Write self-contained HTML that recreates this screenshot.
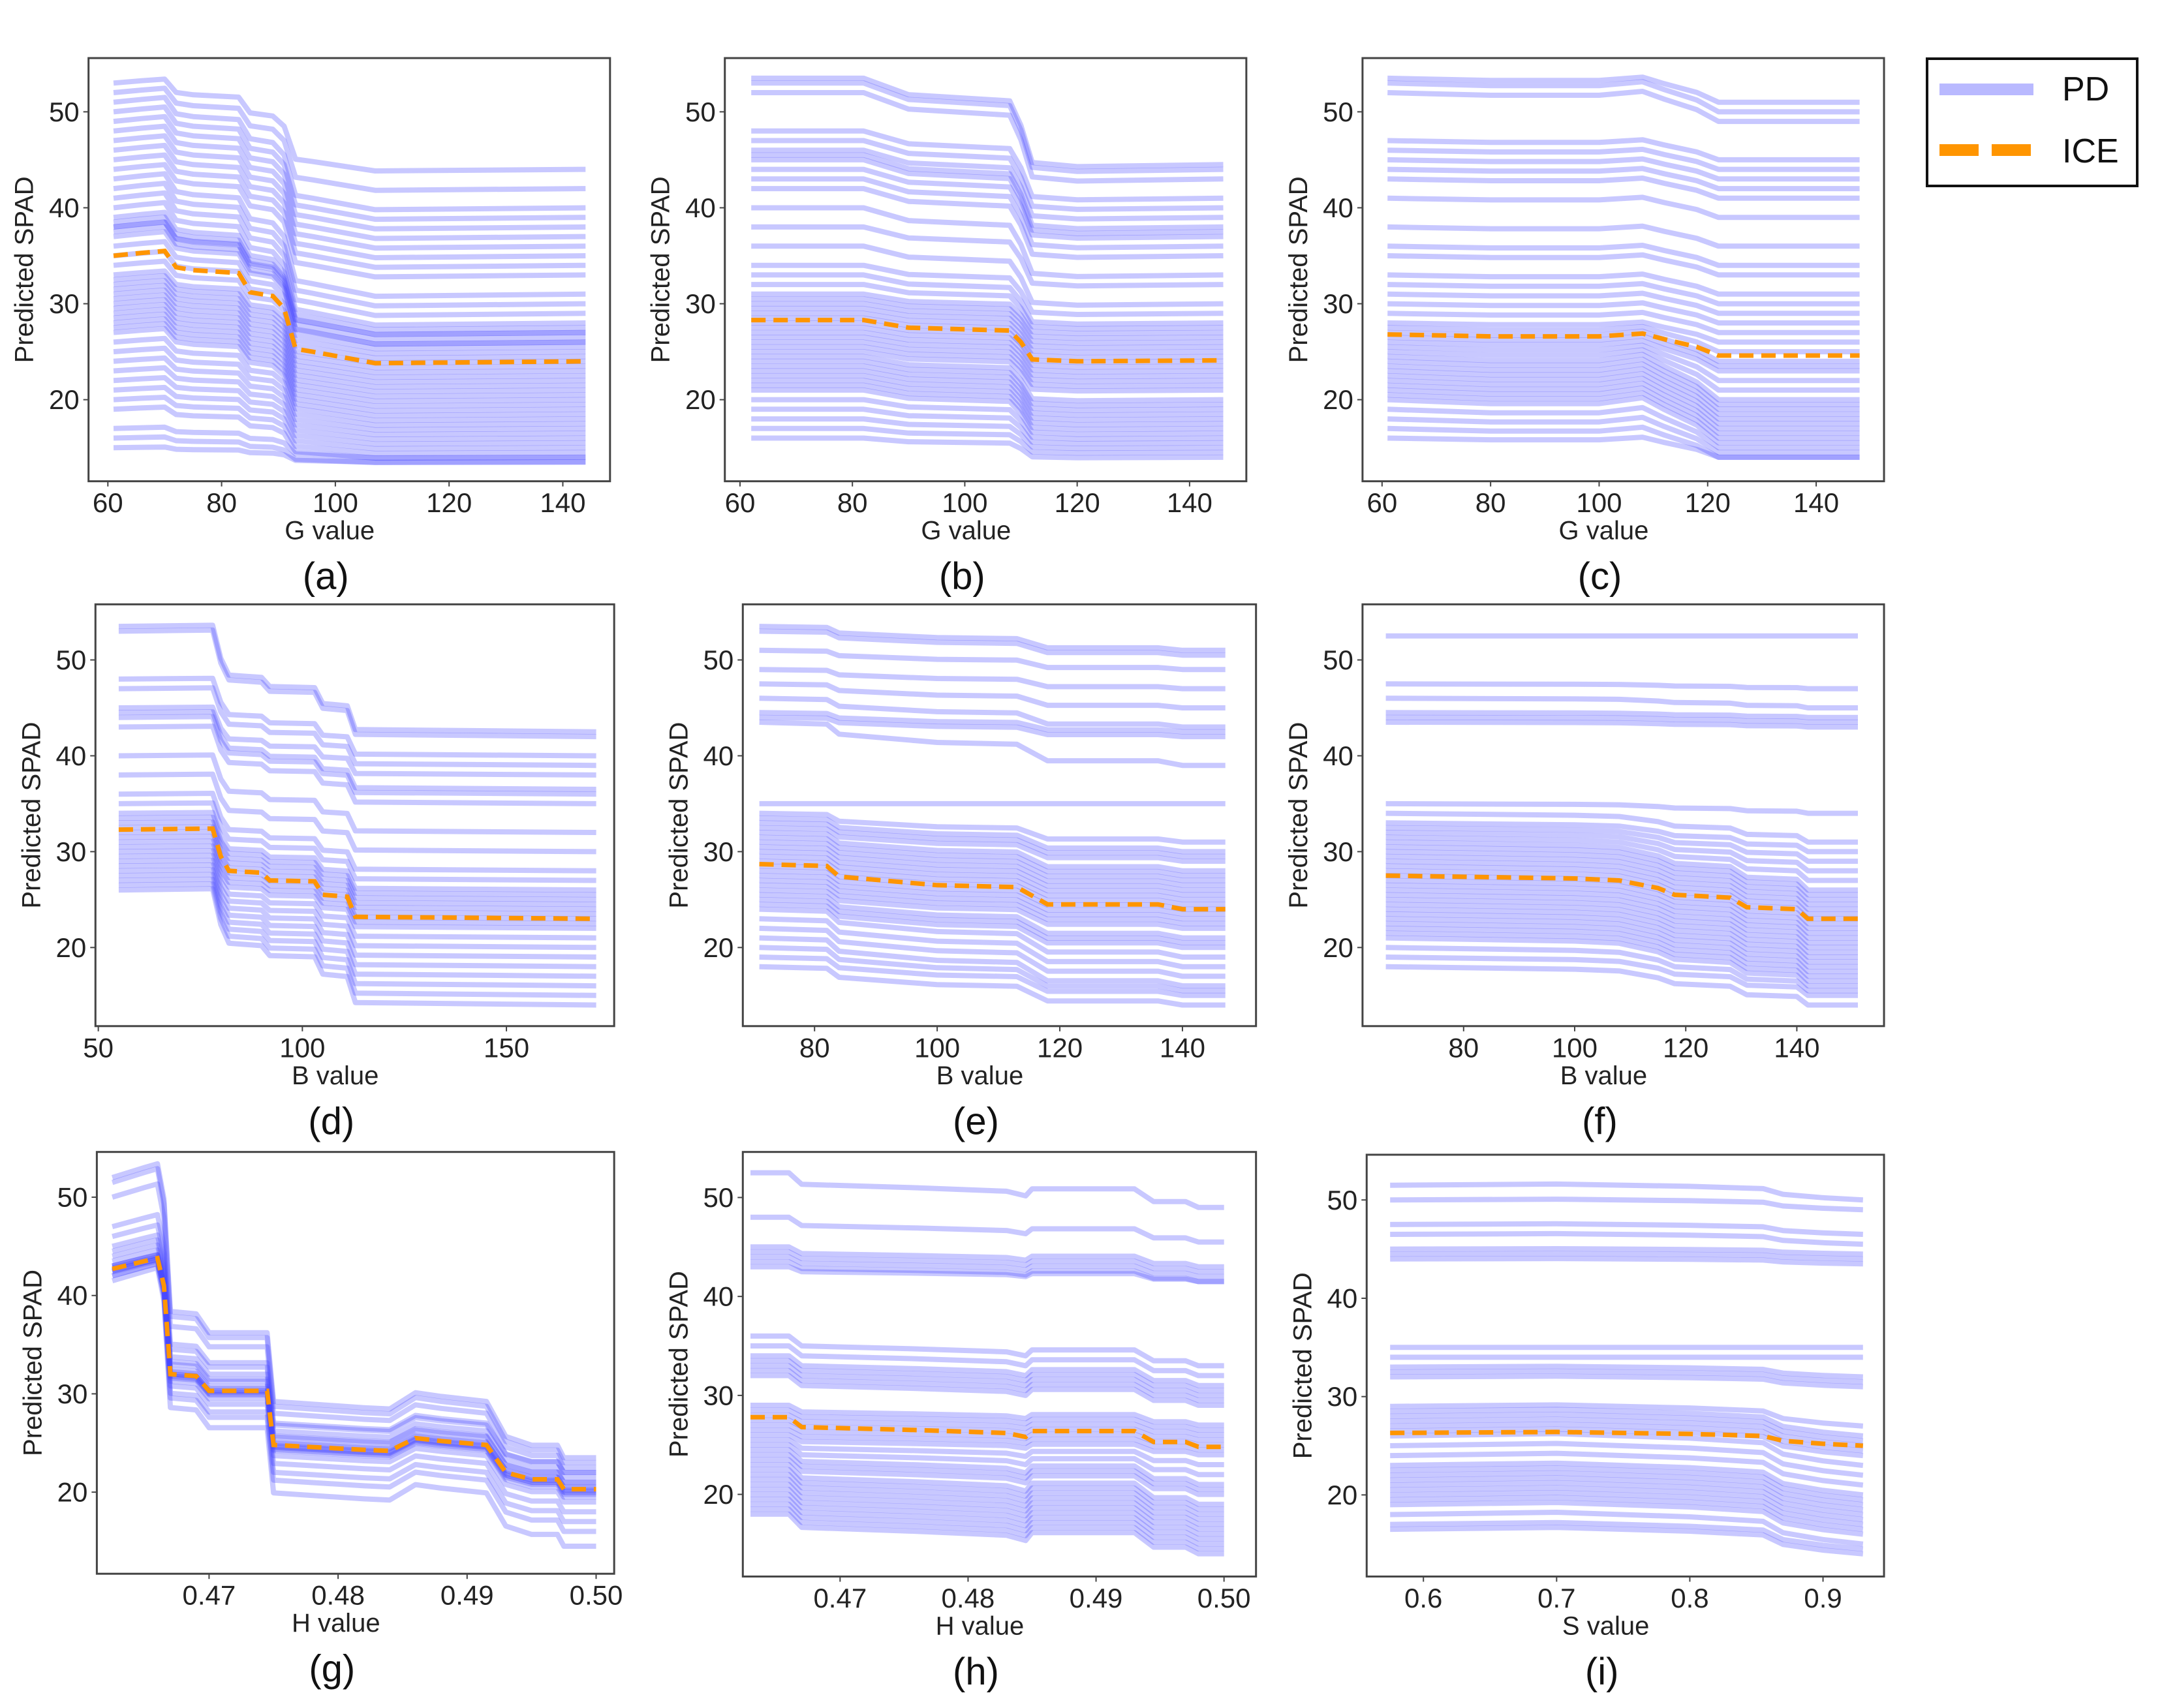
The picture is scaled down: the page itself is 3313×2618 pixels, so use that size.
<!DOCTYPE html>
<html><head><meta charset="utf-8"><style>
html,body{margin:0;padding:0;background:#fff;}
svg{display:block;font-family:"Liberation Sans",Arial,sans-serif;}
</style></head><body>
<svg id="fig" width="3313" height="2618" viewBox="0 0 3313 2618" xmlns="http://www.w3.org/2000/svg">
<g>
<rect x="2953" y="90" width="322" height="195" fill="#fff" stroke="#111" stroke-width="4"/>
<line x1="2972" y1="137" x2="3116" y2="137" stroke="#b9b9ff" stroke-width="18"/>
<text x="3160" y="137" font-size="52" dominant-baseline="central" fill="#111">PD</text>
<line x1="2972" y1="230" x2="3114" y2="230" stroke="#ff9500" stroke-width="18" stroke-dasharray="60 20"/>
<text x="3160" y="232" font-size="52" dominant-baseline="central" fill="#111">ICE</text>
</g>
</svg>
<script>
// ---- data ----
const pdA_x=[61,66,70,72,75,83,85,89,91,93,96,107,144];
const pdA_y=[35,35.3,35.5,33.8,33.5,33.2,31.2,30.8,29.5,25.3,25,23.8,24];
const iceA_start=[53,52,51,50,49,48,47,46,45,44,43,42,41,40,39,38.5,38,38,37.5,37,36,35,34,33,32.5,32,31.5,31,30.5,30,29.5,29,28.5,28,27.5,27,26,25,24,23,22,21,20,19,17,16,15];
const iceA_end=[44,42,40,39,38,37,36,35,34,33,31,30,29,28,27.5,27,27,26.5,26,26,25.5,25,24.5,24,23.5,23,22.5,22,21.5,21,20.5,20,19.5,19,18.5,18,17.5,17,16.5,16,15.5,15,14.5,14,14,13.5,13.5];

const pdB_x=[62,82,90,108,110,112,120,146];
const pdB_y=[28.3,28.3,27.5,27.2,26,24.2,24,24.1];
const iceB_start=[53.5,53,52,48,47,46,45.5,45,44,43,42,40,38,36,34,33,32,31,30.5,30,29.5,29,28.5,28,27.5,27,26.5,26,25.5,25,24.5,24,23.5,23,22.5,22,21.5,21,20,19,18,17,16];
const iceB_end=[44.5,44,43,41,40,39,38,37.5,37,36,35,33,32,30,29,28,27.5,27,26.5,26,25.5,25,24.5,24,23.5,23,22.5,22,21.5,21,20,19.5,19,18.5,18,17.5,17,16.5,16,15.5,15,14.5,14];

const pdC_x=[61,80,100,108,112,118,122,148];
const pdC_y=[26.8,26.6,26.6,26.9,26.3,25.5,24.6,24.6];
const iceC_start=[53.5,53,52,47,46,45,44,43,41,38,36,35,33,32,31,30,29,28,27.5,27,26.5,26,25.5,25,24.5,24,23.5,23,22.5,22,21.5,21,20.5,20,19,18,17,16];
const iceC_end=[51,50,49,45,44,43,42,41,39,36,34,33,31,30,29,28,27,26,25,24,23.5,23,22,21,20,19.5,19,18.5,18,17.5,17,16.5,16,15.5,15,14.5,14,14];

const pdD_x=[55,78,80,82,90,92,103,105,111,113,172];
const pdD_y=[32.3,32.4,29.5,28,27.8,27,26.9,25.5,25.3,23.2,23];
const iceD_start=[53.5,53,48,47,45,44.5,44,43,40,38,36,35,34,33.5,33,32.5,32,31.5,31,30.5,30,29.5,29,28.5,28,27.5,27,26.5,26];
const iceD_end=[42.5,42,40,39,38,36.5,36,35,32,30,28,27,26,25.5,25,24.5,24,23.5,23,22.5,22,21,20,19,18,17,16,15,14];

const pdE_x=[71,82,84,100,113,118,136,140,147];
const pdE_y=[28.7,28.5,27.4,26.5,26.3,24.5,24.5,24,24];
const iceE_start=[53.5,53,51,49,47.5,46,44.5,44,43.5,35,34,33.5,33,32.5,32,31.5,31,30.5,30,29.5,29,28.5,28,27.5,27,26.5,26,25.5,25,24.5,24,23,22,21,20,19,18];
const iceE_end=[51,50.5,49,47,45,43,42.5,42,39,35,31,30,29.5,29,28,27.5,27,26.5,26,25.5,25,24.5,24,23.5,23,22.5,22,21,20.5,20,19,18,17,16,15.5,15,14];

const pdF_x=[66,100,108,115,118,128,131,140,142,151];
const pdF_y=[27.5,27.2,27,26.2,25.5,25.2,24.2,24,23,23];
const iceF_start=[52.5,47.5,46,44.5,44,43.5,35,34,33,32.5,32,31.5,31,30.5,30,29.5,29,28.5,28,27.5,27,26.5,26,25.5,25,24.5,24,23.5,23,22.5,22,21.5,21,20,19,18];
const iceF_end=[52.5,47,45,44,43.5,43,34,31,30,29,28,27,26,25.5,25,24.5,24,23.5,23,22.5,22,21.5,21,20.5,20,19.5,19,18.5,18,17.5,17,16.5,16,15.5,15,14];

const pdG_x=[0.4625,0.465,0.466,0.4665,0.467,0.469,0.470,0.4745,0.475,0.482,0.484,0.486,0.488,0.4915,0.493,0.495,0.497,0.4975,0.500];
const pdG_y=[42.7,43.5,43.8,41,32,31.8,30.3,30.3,24.8,24.3,24.2,25.5,25.2,24.8,22,21.3,21.3,20.3,20.3];
const iceG_start=[52,51.5,50,47,46,45,44.5,44,43.5,43,43,42.5,42.5,42,42,41.5,43,42.8,42.6,42.4];
const iceG_end=[23.5,23,22.5,22,22,21.5,21,21,20.5,20,19.5,19,18,17,16,14.5,20.5,20.2,20,19.8];

const pdH_x=[0.463,0.466,0.467,0.476,0.483,0.4845,0.485,0.493,0.4945,0.497,0.498,0.5];
const pdH_y=[27.8,27.8,26.8,26.5,26.2,25.8,26.4,26.4,25.3,25.3,24.8,24.8];
const iceH_start=[52.5,48,45,44.5,44,43.5,43,36,35,34,33.5,33,32.5,32,29,28.5,28,27.5,27,26.5,26,25.5,25,24.5,24,23.5,23,22.5,22,21.5,21,20.5,20,19.5,19,18.5,18];
const iceH_end=[49,45.5,43,42.5,42,41.5,41.5,33,32,31,30.5,30,29.5,29,27,26.5,26,25.5,25,24.5,24,23,22,21,20.5,20,19,18.5,18,17.5,17,16.5,16,15.5,15,14.5,14];

const pdI_x=[0.575,0.7,0.8,0.855,0.87,0.9,0.93];
const pdI_y=[26.3,26.4,26.2,26.0,25.5,25.2,25.0];
const iceI_start=[51.5,50,47.5,46.5,45,44.5,44,35,34,33,32.5,32,29,28.5,28,27.5,27,26.5,26,25,24,23,22.5,22,21.5,21,20.5,20,19.5,19,18,17,16.5];
const iceI_end=[50,49,46.5,45.5,44.5,44,43.5,35,34,32,31.5,31,27,26,25.5,25,24.5,24,23,22,21,20,19.5,19,18.5,18,17.5,17,16.5,16,15,14.5,14];

const ticksG=[60,80,100,120,140];
const ticksD=[50,100,150];
const ticksEF=[80,100,120,140];
const ticksH=[0.47,0.48,0.49,0.50];
const ticksI=[0.6,0.7,0.8,0.9];
const ticksY=[20,30,40,50];

// ---- layout (overview coords x S) ----
const S=2.1197;
const panels=[
 {id:'a',f:[64,42,441,348],xd:[56.6,148.3],yd:[11.5,55.6],px:pdA_x,py:pdA_y,is:iceA_start,ie:iceA_end,xt:ticksG,xl:'G value',dec:0},
 {id:'b',f:[524,42,901,348],xd:[57.3,150.1],yd:[11.5,55.6],px:pdB_x,py:pdB_y,is:iceB_start,ie:iceB_end,xt:ticksG,xl:'G value',dec:0},
 {id:'c',f:[985,42,1362,348],xd:[56.4,152.5],yd:[11.5,55.6],px:pdC_x,py:pdC_y,is:iceC_start,ie:iceC_end,xt:ticksG,xl:'G value',dec:0},
 {id:'d',f:[69,437,444,742],xd:[49.3,176.4],yd:[11.8,55.8],px:pdD_x,py:pdD_y,is:iceD_start,ie:iceD_end,xt:ticksD,xl:'B value',dec:0},
 {id:'e',f:[537,437,908,742],xd:[68.3,152],yd:[11.8,55.8],px:pdE_x,py:pdE_y,is:iceE_start,ie:iceE_end,xt:ticksEF,xl:'B value',dec:0},
 {id:'f',f:[985,437,1362,742],xd:[61.8,155.7],yd:[11.8,55.8],px:pdF_x,py:pdF_y,is:iceF_start,ie:iceF_end,xt:ticksEF,xl:'B value',dec:0},
 {id:'g',f:[70,833,444,1138],xd:[0.4613,0.5014],yd:[11.7,54.6],px:pdG_x,py:pdG_y,is:iceG_start,ie:iceG_end,xt:ticksH,xl:'H value',dec:2},
 {id:'h',f:[537,833,908,1140],xd:[0.4624,0.5025],yd:[11.7,54.6],px:pdH_x,py:pdH_y,is:iceH_start,ie:iceH_end,xt:ticksH,xl:'H value',dec:2},
 {id:'i',f:[988,835,1362,1140],xd:[0.5574,0.9458],yd:[11.7,54.6],px:pdI_x,py:pdI_y,is:iceI_start,ie:iceI_end,xt:ticksI,xl:'S value',dec:1}
];
const NS='http://www.w3.org/2000/svg';
const svg=document.getElementById('fig');
function mk(tag,attrs){const e=document.createElementNS(NS,tag);for(const k in attrs)e.setAttribute(k,attrs[k]);return e;}
panels.forEach(p=>{
 const L=p.f[0]*S,T=p.f[1]*S,R=p.f[2]*S,B=p.f[3]*S;
 const sx=v=>L+(v-p.xd[0])/(p.xd[1]-p.xd[0])*(R-L);
 const sy=v=>B-(v-p.yd[0])/(p.yd[1]-p.yd[0])*(B-T);
 const g=mk('g',{});
 
 
 svg.appendChild(g);
 const clipId='clip-'+p.id;
 const cp=mk('clipPath',{id:clipId});cp.appendChild(mk('rect',{x:L,y:T,width:R-L,height:B-T}));g.appendChild(cp);
 const lines=mk('g',{'clip-path':'url(#'+clipId+')'});
 
 
 g.appendChild(lines);
 const p0=p.py[0],pN=p.py[p.py.length-1],den=(p0-pN)||1;
 const n=Math.min(p.is.length,p.ie.length);
 for(let k=0;k<n;k++){
  const pts=p.px.map((x,i)=>{const t=(p0-p.py[i])/den;const v=p.is[k]+(p.ie[k]-p.is[k])*t;return sx(x).toFixed(1)+','+sy(v).toFixed(1);}).join(' ');
  const pl=mk('polyline',{points:pts,fill:'none',stroke:'#4a4aff','stroke-opacity':'0.3','stroke-width':'8','stroke-linejoin':'round'});
  
  
  lines.appendChild(pl);
 }
 const pdPts=p.px.map((x,i)=>sx(x).toFixed(1)+','+sy(p.py[i]).toFixed(1)).join(' ');
 const pd=mk('polyline',{points:pdPts,fill:'none',stroke:'#ff9500','stroke-width':'7','stroke-dasharray':'22 12'});
 
 
 g.appendChild(pd);
 const fr=mk('rect',{x:L,y:T,width:R-L,height:B-T,fill:'none',stroke:'#444','stroke-width':'3'});
 
 
 g.appendChild(fr);
 p.xt.forEach(v=>{
  const x=sx(v);
  g.appendChild(mk('line',{x1:x,y1:B,x2:x,y2:B+8,stroke:'#444','stroke-width':'2'}));
  const t=mk('text',{x:x,y:B+33,'font-size':'42','text-anchor':'middle','dominant-baseline':'central',fill:'#222'});
  t.textContent=v.toFixed(p.dec);
  
  
  g.appendChild(t);
 });
 ticksY.forEach(v=>{
  const y=sy(v);
  g.appendChild(mk('line',{x1:L-8,y1:y,x2:L,y2:y,stroke:'#444','stroke-width':'2'}));
  const t=mk('text',{x:L-14,y:y,'font-size':'42','text-anchor':'end','dominant-baseline':'central',fill:'#222'});
  t.textContent=v;
  
  
  g.appendChild(t);
 });
 const cx=(L+R)/2-30;
 const xl=mk('text',{x:cx,y:B+76,'font-size':'40','text-anchor':'middle','dominant-baseline':'central',fill:'#222'});
 xl.textContent=p.xl;
 
 
 g.appendChild(xl);
 const yx=L-98,yy=(T+B)/2;
 const yl=mk('text',{x:yx,y:yy,'font-size':'40','text-anchor':'middle','dominant-baseline':'central',fill:'#222',transform:'rotate(-90 '+yx+' '+yy+')'});
 yl.textContent='Predicted SPAD';
 
 
 g.appendChild(yl);
 const cap=mk('text',{x:cx-6,y:B+146,'font-size':'58','text-anchor':'middle','dominant-baseline':'central',fill:'#111'});
 cap.textContent='('+p.id+')';
 
 
 g.appendChild(cap);
});
</script>
</body></html>
